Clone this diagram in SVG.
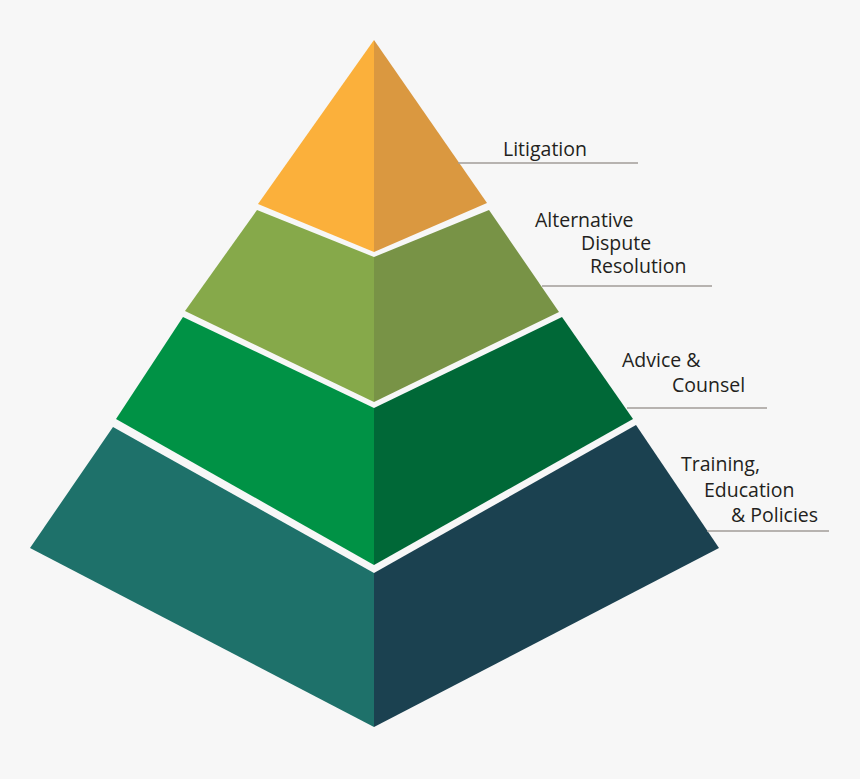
<svg xmlns="http://www.w3.org/2000/svg" width="860" height="779" viewBox="0 0 860 779">
  <style>
    .lbl { font-family: "Open Sans", "Noto Sans", "Liberation Sans", sans-serif; font-size: 19.5px; fill: #231F20; }
    .lead { stroke: #A29D98; stroke-width: 1.3; fill: none; }
  </style>
  <rect x="0" y="0" width="860" height="779" fill="#F7F7F7"/>

  <g id="tier-litigation">
    <polygon points="374,40 258,204 374,252" fill="#FBB03B"/>
    <polygon points="374,40 487,203 374,252" fill="#DA9840"/>
    <text class="lbl" x="503" y="156">Litigation</text>
  </g>

  <g id="tier-adr">
    <polygon points="257,210 374,257 374,402 185,311" fill="#86A94A"/>
    <polygon points="374,257 489,210 559,312 374,402" fill="#789346"/>
    <text class="lbl" x="535" y="227">Alternative</text>
    <text class="lbl" x="581" y="250">Dispute</text>
    <text class="lbl" x="590" y="273">Resolution</text>
  </g>

  <g id="tier-advice">
    <polygon points="183,317 374,408 374,565 116,419" fill="#009245"/>
    <polygon points="374,408 562,317 633,419 374,565" fill="#006837"/>
    <text class="lbl" x="622" y="367">Advice &amp;</text>
    <text class="lbl" x="672" y="392">Counsel</text>
  </g>

  <g id="tier-training">
    <polygon points="113,427 374,573 374,727 30,548" fill="#1E716A"/>
    <polygon points="374,573 636,425 719,548 374,727" fill="#1B4150"/>
    <text class="lbl" x="681" y="471">Training,</text>
    <text class="lbl" x="704" y="497">Education</text>
    <text class="lbl" x="731" y="522">&amp; Policies</text>
  </g>

  <g id="connectors">
    <line class="lead" x1="458" y1="163" x2="638" y2="163"/>
    <line class="lead" x1="542" y1="286" x2="712" y2="286"/>
    <line class="lead" x1="627" y1="408" x2="767" y2="408"/>
    <line class="lead" x1="707" y1="531" x2="829" y2="531"/>
  </g>
</svg>
